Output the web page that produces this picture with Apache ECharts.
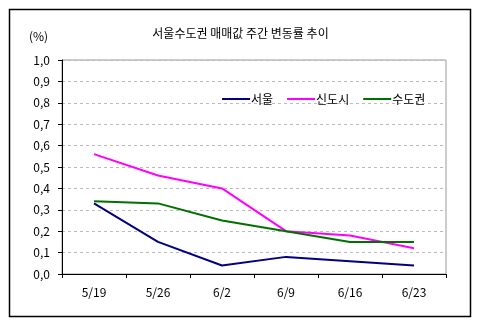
<!DOCTYPE html>
<html>
<head>
<meta charset="utf-8">
<script src="https://cdn.jsdelivr.net/npm/echarts@6/dist/echarts.min.js"></script>
<style>
  html, body { margin: 0; padding: 0; background: #fff; }
  #chart { width: 481px; height: 326px; }
</style>
</head>
<body>
<div id="chart"></div>
<script>
// Weekly change rate of apartment sale prices (%)
const categories = ['5/19', '5/26', '6/2', '6/9', '6/16', '6/23'];
const seoul    = [0.33, 0.15, 0.04, 0.08, 0.06, 0.04];
const newTowns = [0.56, 0.46, 0.40, 0.20, 0.18, 0.12];
const capital  = [0.34, 0.33, 0.25, 0.20, 0.15, 0.15];
const seriesNames = ['서울', '신도시', '수도권'];
const seriesColors = ['#000080', '#ff00ff', '#007000'];

const FONT = '"Noto Sans CJK KR", "DejaVu Sans", sans-serif';
const chart = echarts.init(document.getElementById('chart'));

const fmt = v => v.toFixed(1).replace('.', ',');

chart.setOption({
  backgroundColor: '#ffffff',
  animation: false,
  title: {
    text: '서울수도권 매매값 주간 변동률 추이',
    left: 'center',
    top: 22,
    textStyle: { fontFamily: FONT, fontSize: 12, fontWeight: 'normal', color: '#000' }
  },
  graphic: [
    {
      type: 'rect',
      shape: { x: 9.5, y: 9.5, width: 461, height: 307 },
      style: { fill: 'none', stroke: '#000', lineWidth: 1.5 },
      z: -1
    },
    {
      type: 'text',
      left: 29, top: 30,
      style: { text: '(%)', font: '12px ' + FONT, fill: '#000' }
    }
  ],
  legend: {
    data: seriesNames,
    top: 88,
    left: 217,
    itemGap: 14,
    itemWidth: 28,
    itemHeight: 2,
    icon: 'rect',
    textStyle: { fontFamily: FONT, fontSize: 12, color: '#000', padding: [0, 0, 0, -4] }
  },
  grid: {
    left: 62, right: 35, top: 60, bottom: 52,
    show: true,
    borderColor: '#999',
    borderWidth: 1,
    backgroundColor: '#fff'
  },
  xAxis: {
    type: 'category',
    data: categories,
    boundaryGap: true,
    axisLine: { lineStyle: { color: '#000', width: 1 } },
    axisTick: { show: true, length: 4, lineStyle: { color: '#000' } },
    axisLabel: { fontFamily: FONT, fontSize: 12, color: '#000', margin: 12 },
    splitLine: { show: false }
  },
  yAxis: {
    type: 'value',
    min: 0, max: 1, interval: 0.1,
    axisLine: { show: true, lineStyle: { color: '#000', width: 1 } },
    axisTick: { show: true, length: 4, lineStyle: { color: '#000' } },
    axisLabel: { fontFamily: FONT, fontSize: 12, color: '#000', margin: 12, formatter: fmt },
    splitLine: { show: true, lineStyle: { color: '#bbb', type: [3, 3] } }
  },
  series: [seoul, newTowns, capital].map((data, i) => ({
    name: seriesNames[i],
    type: 'line',
    data: data,
    symbol: 'none',
    lineStyle: { width: 2, color: seriesColors[i] },
    itemStyle: { color: seriesColors[i] }
  }))
});
</script>
</body>
</html>
